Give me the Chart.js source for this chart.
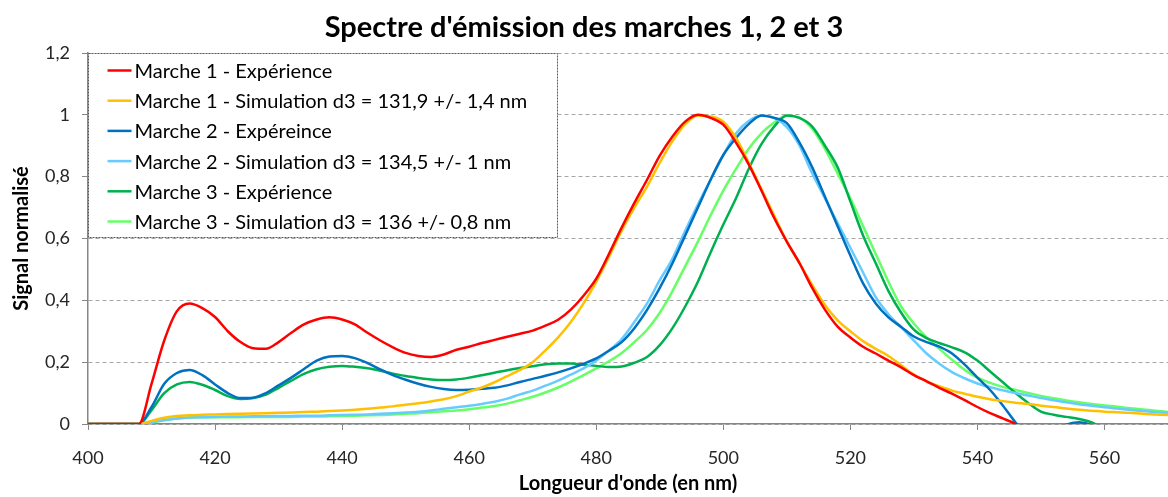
<!DOCTYPE html>
<html>
<head>
<meta charset="utf-8">
<title>Spectre d'émission des marches 1, 2 et 3</title>
<script src="https://cdn.jsdelivr.net/npm/chart.js@4.4.1/dist/chart.umd.min.js"></script>
<style>
  html, body { margin: 0; padding: 0; background: #ffffff; }
  #wrap { width: 1168px; height: 497px; }
</style>
</head>
<body>
<div id="wrap"><canvas id="spectre" width="1168" height="497"></canvas></div>
<script>
// Wavelength grid (nm)
const wavelengths = [
  400, 402, 404, 406, 408, 410, 412, 414, 416, 418,
  420, 422, 424, 426, 428, 430, 432, 434, 436, 438,
  440, 442, 444, 446, 448, 450, 452, 454, 456, 458,
  460, 462, 464, 466, 468, 470, 472, 474, 476, 478,
  480, 482, 484, 486, 488, 490, 492, 494, 496, 498,
  500, 502, 504, 506, 508, 510, 512, 514, 516, 518,
  520, 522, 524, 526, 528, 530, 532, 534, 536, 538,
  540, 542, 544, 546, 548, 550, 552, 554, 556, 558,
  560, 562, 564, 566, 568, 570
];

// Marche 1 - measured spectrum
const marche1Exp = [
  0, 0, 0, 0, 0, 0.13, 0.27, 0.365, 0.39, 0.375,
  0.346, 0.30, 0.265, 0.245, 0.243, 0.265, 0.295, 0.322, 0.338, 0.345,
  0.338, 0.322, 0.295, 0.27, 0.248, 0.23, 0.22, 0.217, 0.225, 0.24,
  0.25, 0.262, 0.272, 0.282, 0.292, 0.302, 0.318, 0.337, 0.37, 0.415,
  0.47, 0.55, 0.635, 0.715, 0.79, 0.868, 0.93, 0.978, 1.0, 0.99,
  0.968, 0.91, 0.84, 0.755, 0.667, 0.59, 0.52, 0.44, 0.37, 0.315,
  0.28, 0.25, 0.228, 0.205, 0.183, 0.158, 0.138, 0.117, 0.098, 0.077,
  0.055, 0.035, 0.018, 0.0, -0.03, null, null, null, null, null,
  null, null, null, null, null, null
];

// Marche 1 - simulation, d3 = 131,9 nm
const marche1Sim = [
  0, 0, 0, 0, 0, 0.01, 0.02, 0.026, 0.028, 0.03,
  0.031, 0.032, 0.033, 0.034, 0.035, 0.036, 0.037, 0.039, 0.04, 0.042,
  0.044, 0.046, 0.049, 0.053, 0.057, 0.062, 0.067, 0.073, 0.08, 0.09,
  0.105, 0.118, 0.135, 0.155, 0.175, 0.2, 0.238, 0.28, 0.33, 0.39,
  0.46, 0.54, 0.625, 0.7, 0.768, 0.845, 0.915, 0.97, 0.998, 0.995,
  0.978, 0.925, 0.845, 0.76, 0.675, 0.59, 0.52, 0.45, 0.385, 0.335,
  0.3, 0.268, 0.243, 0.22, 0.19, 0.16, 0.138, 0.122, 0.108, 0.098,
  0.088, 0.08, 0.074, 0.069, 0.065, 0.059, 0.055, 0.05, 0.046, 0.043,
  0.04, 0.038, 0.036, 0.033, 0.031, 0.029
];

// Marche 2 - measured spectrum
const marche2Exp = [
  0, 0, 0, 0, 0, 0.055, 0.13, 0.165, 0.175, 0.158,
  0.128, 0.1, 0.084, 0.085, 0.1, 0.125, 0.15, 0.178, 0.205, 0.218,
  0.22, 0.213, 0.197, 0.177, 0.158, 0.143, 0.13, 0.12, 0.113, 0.11,
  0.111, 0.114, 0.117, 0.125, 0.136, 0.146, 0.156, 0.167, 0.18, 0.195,
  0.212, 0.237, 0.265, 0.31, 0.369, 0.44, 0.52, 0.61, 0.7, 0.79,
  0.87, 0.925, 0.97, 0.998, 0.99, 0.973, 0.91, 0.83, 0.735, 0.64,
  0.545, 0.455, 0.39, 0.345, 0.314, 0.283, 0.265, 0.25, 0.228, 0.192,
  0.15, 0.11, 0.06, 0.005, -0.04, -0.05, -0.03, -0.002, 0.006, -0.005,
  -0.04, -0.06, null, null, null, null
];

// Marche 2 - simulation, d3 = 134,5 nm
const marche2Sim = [
  0, 0, 0, 0, 0, 0.006, 0.013, 0.018, 0.021, 0.022,
  0.023, 0.024, 0.024, 0.025, 0.025, 0.026, 0.026, 0.027, 0.027, 0.028,
  0.029, 0.03, 0.031, 0.033, 0.035, 0.037, 0.04, 0.044, 0.049, 0.054,
  0.059, 0.065, 0.072, 0.082, 0.096, 0.108, 0.124, 0.14, 0.16, 0.18,
  0.205, 0.238, 0.275, 0.33, 0.39, 0.465, 0.535, 0.625, 0.71, 0.79,
  0.87, 0.94, 0.98, 0.997, 0.99, 0.96, 0.9, 0.81, 0.73, 0.65,
  0.57, 0.49, 0.41, 0.355, 0.313, 0.27, 0.228, 0.195, 0.168, 0.148,
  0.131, 0.119, 0.109, 0.1, 0.092, 0.084, 0.077, 0.07, 0.064, 0.059,
  0.054, 0.05, 0.046, 0.042, 0.039, 0.036
];

// Marche 3 - measured spectrum
const marche3Exp = [
  0, 0, 0, 0, 0, 0.045, 0.1, 0.128, 0.136, 0.127,
  0.11, 0.09, 0.081, 0.084, 0.095, 0.117, 0.14, 0.162, 0.177, 0.185,
  0.188, 0.185, 0.18, 0.172, 0.163, 0.155, 0.149, 0.144, 0.142, 0.144,
  0.15, 0.158, 0.166, 0.174, 0.181, 0.187, 0.193, 0.196, 0.196, 0.192,
  0.188, 0.184, 0.186, 0.198, 0.217, 0.255, 0.31, 0.38, 0.46, 0.555,
  0.645, 0.73, 0.825, 0.905, 0.962, 0.998, 0.99, 0.962, 0.9, 0.83,
  0.72, 0.61, 0.52, 0.43, 0.36, 0.305, 0.278, 0.262, 0.248, 0.232,
  0.205, 0.17, 0.135, 0.1, 0.068, 0.04, 0.03, 0.023, 0.016, 0.005,
  -0.02, -0.05, null, null, null, null
];

// Marche 3 - simulation, d3 = 136 nm
const marche3Sim = [
  0, 0, 0, 0, 0, 0.005, 0.012, 0.018, 0.021, 0.022,
  0.022, 0.022, 0.022, 0.023, 0.023, 0.023, 0.023, 0.024, 0.024, 0.025,
  0.026, 0.027, 0.028, 0.029, 0.031, 0.033, 0.035, 0.038, 0.041, 0.044,
  0.048, 0.053, 0.058, 0.066, 0.077, 0.088, 0.102, 0.118, 0.137, 0.158,
  0.18, 0.203, 0.23, 0.265, 0.305, 0.36, 0.43, 0.51, 0.59, 0.675,
  0.755, 0.825, 0.89, 0.94, 0.975, 0.997, 0.99, 0.955, 0.89, 0.81,
  0.73, 0.64, 0.55, 0.46, 0.38, 0.325, 0.28, 0.243, 0.208, 0.175,
  0.15, 0.133, 0.12, 0.11, 0.1, 0.091, 0.083, 0.076, 0.07, 0.065,
  0.06, 0.056, 0.051, 0.047, 0.043, 0.039
];

// Axis ticks
const xTicks = [400, 420, 440, 460, 480, 500, 520, 540, 560];
const yTicks = [0, 0.2, 0.4, 0.6, 0.8, 1, 1.2];

const seriesLabels = [
  'Marche 1 - Expérience',
  'Marche 1 - Simulation d3 = 131,9 +/- 1,4 nm',
  'Marche 2 - Expéreince',
  'Marche 2 - Simulation d3 = 134,5 +/- 1 nm',
  'Marche 3 - Expérience',
  'Marche 3 - Simulation d3 = 136 +/- 0,8 nm'
];
const seriesColors = ['#FF0000', '#FFC000', '#0070C0', '#66CCFF', '#00B050', '#66FF66'];
const seriesValues = [marche1Exp, marche1Sim, marche2Exp, marche2Sim, marche3Exp, marche3Sim];

const FONT = 'Lato, "Open Sans", sans-serif';

function toPoints(values) {
  const pts = [];
  wavelengths.forEach((nm, i) => {
    if (values[i] !== null) pts.push({ x: nm, y: values[i] });
  });
  return pts;
}

// Legend box drawn inside the plot area, top-left
const boxLegend = {
  id: 'boxLegend',
  afterDatasetsDraw(chart) {
    const ctx = chart.ctx;
    const area = chart.chartArea;
    const left = area.left + 0.5, top = area.top + 0.5;
    const w = 469, h = 184;
    ctx.save();
    ctx.fillStyle = '#ffffff';
    ctx.fillRect(left, top, w, h);
    ctx.strokeStyle = '#595959';
    ctx.lineWidth = 1;
    ctx.setLineDash([2, 1]);
    ctx.strokeRect(left, top, w, h);
    ctx.setLineDash([]);
    ctx.font = '20px ' + FONT;
    ctx.textBaseline = 'middle';
    ctx.textAlign = 'left';
    chart.data.datasets.forEach((ds, i) => {
      const y = top + 17 + i * 30.2;
      ctx.strokeStyle = ds.borderColor;
      ctx.lineWidth = 2.5;
      ctx.beginPath();
      ctx.moveTo(left + 19, y);
      ctx.lineTo(left + 43, y);
      ctx.stroke();
      ctx.fillStyle = '#000000';
      ctx.fillText(ds.label, left + 46, y + 1);
    });
    ctx.restore();
  }
};

new Chart(document.getElementById('spectre'), {
  type: 'line',
  data: {
    datasets: seriesValues.map((vals, i) => ({
      label: seriesLabels[i],
      data: toPoints(vals),
      borderColor: seriesColors[i],
      backgroundColor: seriesColors[i],
      borderWidth: 2.5,
      pointRadius: 0,
      fill: false,
      cubicInterpolationMode: 'monotone'
    }))
  },
  options: {
    responsive: false,
    animation: false,
    layout: { padding: 0 },
    plugins: {
      legend: { display: false },
      tooltip: { enabled: false },
      title: {
        display: true,
        text: "Spectre d'émission des marches 1, 2 et 3",
        color: '#000000',
        font: { family: FONT, size: 29, weight: 'bold' },
        padding: { top: 10, bottom: 8.2 }
      }
    },
    scales: {
      x: {
        type: 'linear',
        min: 400,
        max: 570,
        afterBuildTicks: (scale) => { scale.ticks = xTicks.map(v => ({ value: v })); },
        afterFit: (scale) => { scale.height = 73; },
        ticks: {
          autoSkip: false,
          maxRotation: 0,
          color: '#262626',
          padding: 17,
          font: { family: FONT, size: 18 }
        },
        grid: {
          drawOnChartArea: false,
          drawTicks: true,
          tickLength: 6,
          tickColor: '#868686'
        },
        border: { color: '#868686', width: 1.5 },
        title: {
          display: true,
          text: "Longueur d'onde (en nm)",
          color: '#000000',
          font: { family: FONT, size: 20, weight: 'bold' },
          padding: { top: 0, bottom: 1 }
        }
      },
      y: {
        min: 0,
        max: 1.2,
        afterBuildTicks: (scale) => { scale.ticks = yTicks.map(v => ({ value: v })); },
        afterFit: (scale) => { scale.width = 88; },
        ticks: {
          color: '#262626',
          padding: 12,
          font: { family: FONT, size: 18 },
          callback: (v) => String(v).replace('.', ',')
        },
        grid: {
          color: '#A6A6A6',
          lineWidth: 1,
          tickLength: 6,
          tickColor: '#868686'
        },
        border: { color: '#868686', width: 1.5, dash: [4, 3] },
        title: {
          display: true,
          text: 'Signal normalisé',
          color: '#000000',
          font: { family: FONT, size: 20, weight: 'bold' },
          padding: { top: 10, bottom: 0 }
        }
      }
    }
  },
  plugins: [boxLegend]
});
</script>
</body>
</html>
